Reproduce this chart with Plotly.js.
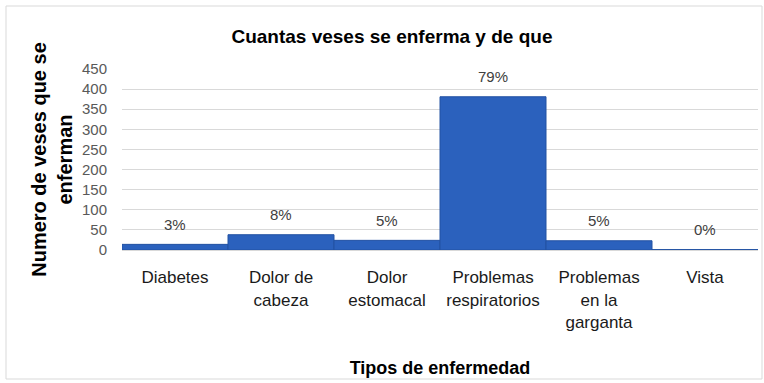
<!DOCTYPE html>
<html>
<head>
<meta charset="utf-8">
<script src="https://cdn.plot.ly/plotly-3.0.1.min.js"></script>
<style>html,body{margin:0;padding:0;background:#fff;}#chart{width:764px;height:383px;}</style>
</head>
<body>
<div id="chart"></div>
<script>
const categories = ['Diabetes', 'Dolor de<br>cabeza', 'Dolor<br>estomacal', 'Problemas<br>respiratorios', 'Problemas<br>en la<br>garganta', 'Vista'];
const counts = [14, 38, 24, 381, 23, 1];
const percentLabels = ['3%', '8%', '5%', '79%', '5%', '0%'];
const yTickValues = [0, 50, 100, 150, 200, 250, 300, 350, 400, 450];

const trace = {
  type: 'bar',
  x: categories,
  y: counts,
  marker: {color: '#2b61bd', line: {color: '#2352a3', width: 1}},
  hoverinfo: 'x+y'
};

const annotations = categories.map((c, i) => ({
  x: c, y: counts[i], xref: 'x', yref: 'y',
  text: percentLabels[i], showarrow: false,
  yanchor: 'middle', yshift: 20,
  font: {family: 'Liberation Sans, Arial, sans-serif', size: 15, color: '#404040'}
}));

const layout = {
  width: 764, height: 383,
  margin: {l: 122, r: 6, t: 69, b: 133},
  paper_bgcolor: '#ffffff', plot_bgcolor: '#ffffff',
  showlegend: false,
  bargap: 0,
  title: {
    text: 'Cuantas veses se enferma y de que',
    font: {family: 'Liberation Sans, Arial, sans-serif', size: 19, color: '#000', weight: 'bold'},
    x: 0.513, xref: 'container', xanchor: 'center',
    y: 0.906, yref: 'container', yanchor: 'middle'
  },
  xaxis: {
    type: 'category',
    tickfont: {family: 'Liberation Sans, Arial, sans-serif', size: 17, color: '#1a1a1a'},
    showline: true, linecolor: '#d9d9d9', linewidth: 1,
    ticks: '', showgrid: false, ticklabelstandoff: 12,
    title: {
      text: 'Tipos de enfermedad',
      font: {family: 'Liberation Sans, Arial, sans-serif', size: 18, color: '#000', weight: 'bold'},
      standoff: 30
    },
    automargin: false
  },
  yaxis: {
    range: [0, 450],
    tickvals: yTickValues,
    ticktext: yTickValues.map(String),
    tickfont: {family: 'Liberation Sans, Arial, sans-serif', size: 15, color: '#595959'},
    showgrid: true, gridcolor: '#d9d9d9', gridwidth: 1,
    zeroline: false, showline: false, ticks: '', ticklabelstandoff: 14,
    title: {
      text: 'Numero de veses que se<br>enferman',
      font: {family: 'Liberation Sans, Arial, sans-serif', size: 20, color: '#000', weight: 'bold'},
      standoff: 3
    },
    automargin: false
  },
  shapes: [{
    type: 'rect', xref: 'paper', yref: 'paper',
    x0: (6 - 122) / 636, x1: (762 - 122) / 636,
    y0: (250 - 379) / 181, y1: (250 - 6) / 181,
    line: {color: '#d9d9d9', width: 1}, fillcolor: 'rgba(0,0,0,0)', layer: 'below'
  }],
  annotations: annotations
};

Plotly.newPlot('chart', [trace], layout, {displayModeBar: false, staticPlot: true});
</script>
</body>
</html>
